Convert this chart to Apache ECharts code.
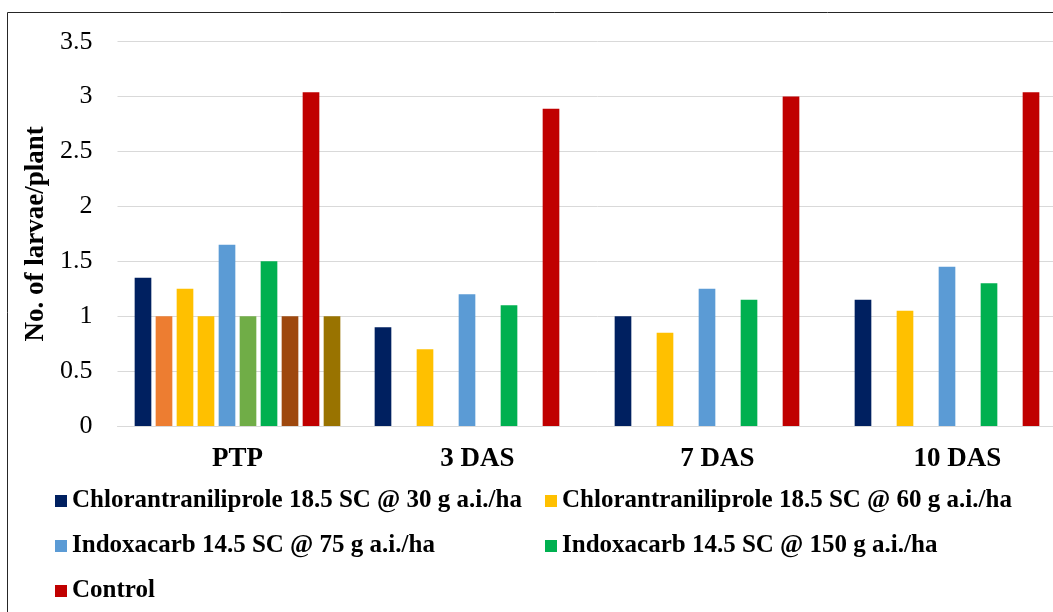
<!DOCTYPE html>
<html>
<head>
<meta charset="utf-8">
<script src="https://cdn.jsdelivr.net/npm/echarts@6/dist/echarts.min.js"></script>
<style>
  html, body { margin: 0; padding: 0; background: #fff; overflow: hidden; width: 1053px; height: 612px; }
  #chart { width: 1100px; height: 612px; }
</style>
</head>
<body>
<div id="chart"></div>
<script>
// ---- data ----
const categories = ['PTP', '3 DAS', '7 DAS', '10 DAS'];
const yTicks = [0, 0.5, 1, 1.5, 2, 2.5, 3, 3.5];

const chlor30  = [1.35, 0.90, 1.00, 1.15];
const extra2   = [1.00, null, null, null];
const chlor60  = [1.25, 0.70, 0.85, 1.05];
const extra4   = [1.00, null, null, null];
const indox75  = [1.65, 1.20, 1.25, 1.45];
const extra6   = [1.00, null, null, null];
const indox150 = [1.50, 1.10, 1.15, 1.30];
const extra8   = [1.00, null, null, null];
const control  = [3.04, 2.89, 3.00, 3.04];
const extra10  = [1.00, null, null, null];

const seriesNames = [
  'Chlorantraniliprole 18.5 SC @ 30 g a.i./ha',
  'T2',
  'Chlorantraniliprole 18.5 SC @ 60 g a.i./ha',
  'T4',
  'Indoxacarb 14.5 SC @ 75 g a.i./ha',
  'T6',
  'Indoxacarb 14.5 SC @ 150 g a.i./ha',
  'T8',
  'Control',
  'T10'
];
const seriesData = [chlor30, extra2, chlor60, extra4, indox75, extra6, indox150, extra8, control, extra10];
const seriesColors = ['#002060', '#ED7D31', '#FFC000', '#FFC000', '#5B9BD5', '#70AD47', '#00B050', '#9E480E', '#C00000', '#997300'];

// ---- chart ----
const chart = echarts.init(document.getElementById('chart'), null, { renderer: 'canvas' });
const serif = '"Liberation Serif", "Times New Roman", serif';

const series = seriesNames.map((n, i) => ({
  name: n,
  type: 'bar',
  data: seriesData[i],
  barGap: '26%',
  barCategoryGap: '14.3%',
  itemStyle: { color: seriesColors[i] },
  emphasis: { disabled: true },
  animation: false
}));

const legendCommon = {
  orient: 'vertical',
  icon: 'rect',
  padding: 0,
  itemWidth: 12,
  itemHeight: 12,
  itemGap: 19,
  selectedMode: false,
  textStyle: { fontFamily: serif, fontWeight: 'bold', fontSize: 25, color: '#000', lineHeight: 26 }
};

chart.setOption({
  backgroundColor: '#fff',
  animation: false,
  grid: { left: 117.5, top: 41.7, width: 960, height: 384.3, containLabel: false, outerBoundsMode: 'none' },
  xAxis: {
    type: 'category',
    data: categories,
    axisLine: { show: true, lineStyle: { color: '#d9d9d9', width: 1 } },
    axisTick: { show: false },
    axisLabel: { fontFamily: serif, fontWeight: 'bold', fontSize: 27, color: '#000', margin: 20 }
  },
  yAxis: {
    type: 'value',
    min: yTicks[0],
    max: yTicks[yTicks.length - 1],
    interval: 0.5,
    name: 'No. of larvae/plant',
    nameLocation: 'middle',
    nameGap: 64,
    nameTextStyle: { fontFamily: serif, fontWeight: 'bold', fontSize: 27, color: '#000' },
    axisLine: { show: false },
    axisTick: { show: false },
    splitLine: { lineStyle: { color: '#d9d9d9', width: 1 } },
    axisLabel: { fontFamily: serif, fontSize: 26, color: '#000', margin: 25 }
  },
  legend: [
    Object.assign({}, legendCommon, { left: 55, top: 488, data: [seriesNames[0], seriesNames[4], seriesNames[8]] }),
    Object.assign({}, legendCommon, { left: 545, top: 488, data: [seriesNames[2], seriesNames[6]] })
  ],
  graphic: [{
    type: 'rect',
    silent: true,
    shape: { x: 7.5, y: 12.5, width: 1200, height: 700 },
    style: { fill: 'none', stroke: '#262626', lineWidth: 1 }
  }],
  series: series
});
</script>
</body>
</html>
